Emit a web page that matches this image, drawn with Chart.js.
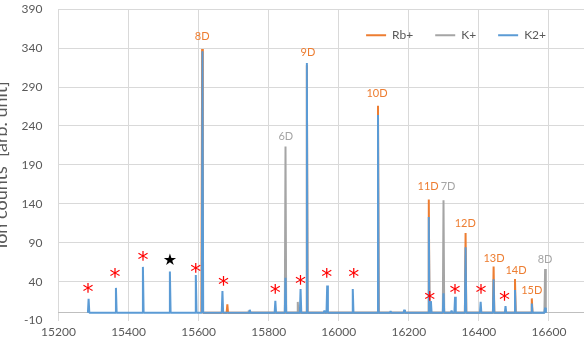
<!DOCTYPE html>
<html>
<head>
<meta charset="utf-8">
<script src="https://cdn.jsdelivr.net/npm/chart.js@4.4.0/dist/chart.umd.min.js"></script>
<style>
  html, body { margin: 0; padding: 0; background: #fff; overflow: hidden; }
  #wrap { position: relative; width: 587px; height: 348px; overflow: hidden; }
  #wrap canvas { position: absolute; left: -10px; top: 0; }
</style>
</head>
<body>
<div id="wrap"><canvas id="spectrum" width="597" height="348"></canvas></div>
<script>
// Series
const seriesNames = ['Rb+', 'K+', 'K2+'];
const seriesColors = ['#ED7D31', '#A5A5A5', '#5B9BD5'];

// peak positions (mass) and heights (ion counts)
const rbMass   = [15610, 15682, 15909, 16112, 16257, 16362, 16442, 16503, 16551];
const rbCounts = [339, 11, 318, 266, 145.5, 102.4, 59.4, 43.5, 18.5];

const kMass   = [15743, 15848, 15883, 16299, 16589];
const kCounts = [3, 213.5, 14, 144.6, 56.4];

const k2Mass   = [15286, 15364, 15441, 15518, 15592, 15611, 15668, 15746, 15819, 15848, 15891, 15909,
                  15959, 15967, 16040, 16112, 16148, 16187, 16257, 16263, 16299, 16322, 16332, 16362,
                  16405, 16442, 16476, 16503, 16551, 16589];
const k2Counts = [18, 32, 59, 53, 48.7, 336, 28, 4, 15.5, 45, 30.6, 321,
                  3, 35, 30.6, 254, 2, 4, 123, 15, 25, 3, 20.6, 84.3,
                  14.2, 43, 8.6, 29.3, 12, 6.5];

// axis ticks
const xTicks = [15200, 15400, 15600, 15800, 16000, 16200, 16400, 16600];
const yTicks = [-10, 40, 90, 140, 190, 240, 290, 340, 390];

// peak annotations
const peakLabels      = ['8D', '9D', '10D', '6D', '11D', '7D', '12D', '13D', '14D', '15D', '8D'];
const peakLabelSeries = [0, 0, 0, 1, 0, 1, 0, 0, 0, 0, 1];
const peakLabelMass   = [15610, 15912, 16109, 15849, 16255, 16312, 16361, 16443, 16506, 16551, 16589];
const peakLabelCounts = [356, 335, 282, 227, 163, 163, 115, 70, 55, 29, 69];

const asteriskMass   = [15284, 15361, 15441, 15592, 15671, 15819, 15891, 15966, 16043, 16260, 16332, 16406, 16473];
const asteriskCounts = [32, 51, 73, 57, 41, 31, 42, 51, 51, 22, 31, 31, 21];
const starMass   = [15518];
const starCounts = [69];

const peakHalfWidth = 2;

function spikes(mass, counts) {
  const pts = [];
  mass.forEach((m, i) => {
    pts.push({x: m - peakHalfWidth, y: 0}, {x: m, y: counts[i]}, {x: m + peakHalfWidth, y: 0});
  });
  return pts;
}

// text marks (peak names, asterisks, star) placed through the scales
const marksPlugin = {
  id: 'marks',
  afterInit(chart) {
    // legend sits inside the plot, so it takes no layout height
    const lg = chart.legend;
    const fit = lg.fit;
    lg.fit = function () { fit.call(this); this.height = 0; };
  },
  afterLayout(chart) {
    const lg = chart.legend, area = chart.chartArea;
    lg.top = area.top - 2;
    lg.height = 40;
    lg.bottom = lg.top + lg.height;
    lg.right = area.right - 16;
    lg.width = lg.right - lg.left;
  },
  afterDatasetsDraw(chart) {
    const {ctx, scales: {x, y}} = chart;
    const put = (text, mass, counts, font, color) => {
      ctx.font = font;
      ctx.fillStyle = color;
      ctx.textAlign = 'center';
      ctx.textBaseline = 'alphabetic';
      const m = ctx.measureText(text);
      const px = x.getPixelForValue(mass);
      const py = y.getPixelForValue(counts) + (m.actualBoundingBoxAscent - m.actualBoundingBoxDescent) / 2;
      ctx.fillText(text, px, py);
    };
    ctx.save();
    peakLabels.forEach((t, i) => {
      put(t, peakLabelMass[i], peakLabelCounts[i], '11px Lato', seriesColors[peakLabelSeries[i]]);
    });
    asteriskMass.forEach((m, i) => put('*', m, asteriskCounts[i], '22px "DejaVu Sans"', '#FF0000'));
    starMass.forEach((m, i) => put('\u2605', m, starCounts[i], '16px "DejaVu Sans"', '#000000'));
    ctx.restore();
  }
};

Chart.defaults.font.family = 'Lato';
Chart.defaults.color = '#595959';

const ctx = document.getElementById('spectrum').getContext('2d');
new Chart(ctx, {
  type: 'line',
  data: {
    datasets: [
      { label: seriesNames[0], data: spikes(rbMass, rbCounts), order: 2 },
      { label: seriesNames[1], data: spikes(kMass, kCounts), order: 1 },
      { label: seriesNames[2], data: spikes(k2Mass, k2Counts), order: 0 }
    ].map((d, i) => Object.assign(d, {
      borderColor: seriesColors[i],
      backgroundColor: seriesColors[i],
      borderWidth: 2,
      borderJoinStyle: 'bevel',
      pointRadius: 0,
      tension: 0,
      fill: false
    }))
  },
  options: {
    responsive: false,
    animation: false,
    layout: { padding: { left: 0, right: 3, top: 0, bottom: 5 } },
    plugins: {
      tooltip: { enabled: false },
      legend: {
        position: 'top',
        align: 'end',
        labels: {
          usePointStyle: true,
          pointStyle: 'line',
          pointStyleWidth: 20,
          padding: 22,
          color: '#595959',
          font: { size: 12 },
          sort: (a, b) => a.datasetIndex - b.datasetIndex
        }
      }
    },
    scales: {
      x: {
        type: 'linear',
        min: 15200,
        max: 16700,
        afterBuildTicks: axis => { axis.ticks = xTicks.map(v => ({value: v})); },
        ticks: {
          padding: 4,
          autoSkip: false,
          maxRotation: 0,
          font: { size: 12 },
          color: '#595959',
          callback: v => String(v)
        },
        grid: { color: '#d9d9d9', drawTicks: false },
        border: { display: false }
      },
      y: {
        min: -10,
        max: 390,
        afterBuildTicks: axis => {
          axis.ticks = [...yTicks, 0].sort((a, b) => a - b).map(v => ({value: v}));
        },
        ticks: {
          padding: 2,
          autoSkip: false,
          font: { size: 12 },
          color: '#595959',
          callback: v => (v === 0 ? '' : String(v))
        },
        grid: {
          drawTicks: true,
          tickLength: 14,
          tickColor: 'rgba(0,0,0,0)',
          color: c => (c.tick.value === 0 ? '#bfbfbf' : c.tick.value === -10 ? 'rgba(0,0,0,0)' : '#d9d9d9')
        },
        border: { display: false },
        title: {
          display: true,
          text: 'Ion counts  [arb. unit]',
          color: '#595959',
          font: { size: 18 },
          padding: { top: 0, bottom: 8 }
        }
      }
    }
  },
  plugins: [marksPlugin]
});
</script>
</body>
</html>
